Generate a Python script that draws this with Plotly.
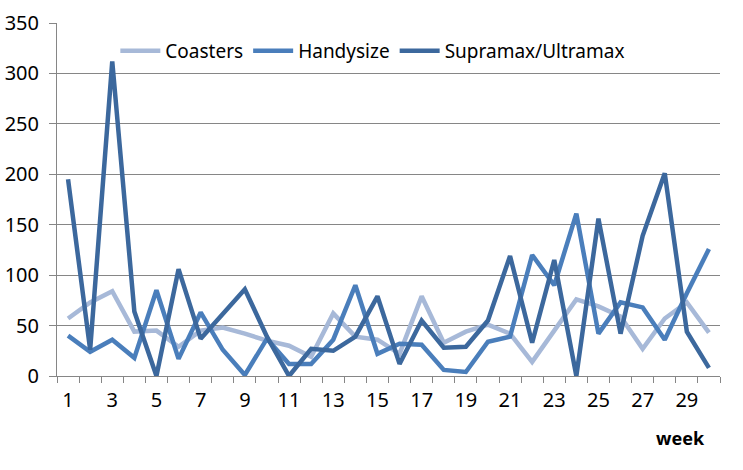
import plotly.graph_objects as go

weeks = list(range(1, 31))

coasters = [57, 73, 84, 44, 45, 29, 45, 48, 42, 35, 30, 19, 62, 39, 36,
            22, 79, 33, 44, 51, 42, 14, 45, 76, 69, 59, 27, 57, 73, 43]
handysize = [40, 24, 36, 18, 85, 17, 63, 26, 1, 37, 12, 12, 36, 90, 22,
             32, 31, 6, 4, 34, 39, 120, 90, 161, 42, 73, 68, 36, 82, 126]
supramax = [195, 26, 312, 64, 0, 106, 37, 62, 86, 39, 0, 27, 25, 39, 79,
            12, 55, 28, 29, 55, 119, 33, 115, 0, 156, 42, 139, 201, 44, 8]

series = [
    ("Coasters", coasters, "#A7B9D8"),
    ("Handysize", handysize, "#4A7EBB"),
    ("Supramax/Ultramax", supramax, "#3C689D"),
]

fig = go.Figure()
for name, vals, color in series:
    fig.add_trace(go.Scatter(x=weeks, y=vals, name=name, mode="lines",
                             line=dict(color=color, width=4.5)))

fig.update_layout(
    width=743, height=470,
    margin=dict(l=57, r=23, t=23, b=94, autoexpand=False),
    plot_bgcolor="white", paper_bgcolor="white",
    font=dict(family="Noto Sans", size=19, color="black"),
    showlegend=True,
    legend=dict(orientation="h", x=0.088, y=0.975, xanchor="left", yanchor="top",
                bgcolor="rgba(0,0,0,0)", font=dict(size=19), itemwidth=40,
                tracegroupgap=0),
)
fig.update_xaxes(
    range=[0.5, 30.5], tickvals=list(range(1, 31, 2)), ticktext=[str(w) for w in range(1, 31, 2)],
    showgrid=False, showline=True, linecolor="#868686", linewidth=1,
    ticks="", tickfont=dict(size=20), automargin=False, ticklabelstandoff=6,
    minor=dict(ticks="outside", tick0=0.5, dtick=1, ticklen=6, tickcolor="#868686", showgrid=False),
)
fig.update_yaxes(
    range=[0, 350], dtick=50, showgrid=True, gridcolor="#868686", gridwidth=1,
    showline=True, linecolor="#868686", linewidth=1, zeroline=False,
    ticks="outside", ticklen=7, tickcolor="#868686", tickfont=dict(size=20),
    automargin=False, ticklabelstandoff=6,
)
fig.add_annotation(text="<b>week</b>", xref="x domain", yref="y domain",
                   x=(707 - 57) / 663, y=-(438 - 376) / 353.3,
                   xanchor="right", yanchor="middle", showarrow=False,
                   font=dict(size=18))

# drop the default body margin so the figure sits at the window's corner
fig.write_html("out.html", config={"displayModeBar": False},
               post_script="document.body.style.margin='0';")
